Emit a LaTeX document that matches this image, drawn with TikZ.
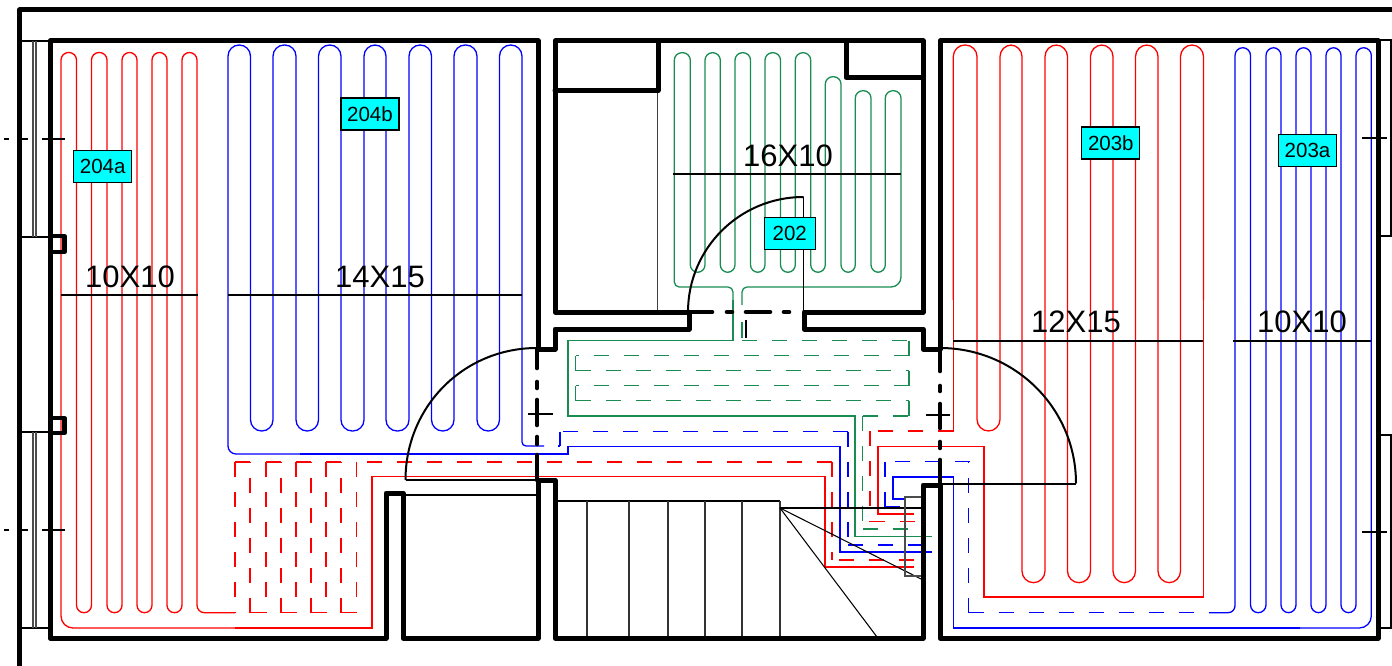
\documentclass[tikz,border=0pt]{standalone}
\usepackage{fontspec}
\setmainfont{Liberation Sans}
\definecolor{pipegreen}{rgb}{0.10,0.55,0.32}
\definecolor{tagcyan}{RGB}{0,255,255}
\definecolor{pipered}{RGB}{255,0,0}
\definecolor{pipeblue}{RGB}{0,0,255}
\tikzset{
  wall/.style={line width=5pt,line join=round,line cap=round,black},
  doorwall/.style={line width=4.6pt,line cap=round,black},
  doorswing/.style={line width=2pt,black},
  thin/.style={line width=1.05pt,black},
  thingray/.style={line width=1.2pt,black!70},
  redp/.style={line width=1.3pt,pipered,line join=miter},
  bluep/.style={line width=1.3pt,pipeblue,line join=miter},
  greenp/.style={line width=1.3pt,pipegreen,line join=miter},
  feed/.style={dash pattern=on 15pt off 15pt},
  tag/.style={draw=black,line width=1.1pt,fill=tagcyan,inner sep=0pt,minimum width=58pt,minimum height=32pt,font=\fontsize{20.5}{24}\selectfont,text=black},
  dim/.style={inner sep=0pt,font=\fontsize{31}{36}\selectfont,text=black}
}
% a dashed pipe run: every straight leg restarts its dash at its first point
\newcommand{\dashrun}[2]{%
  \foreach \xx/\yy [count=\nn, remember=\xx as \px, remember=\yy as \py] in {#2}{%
    \ifnum\nn>1 \draw[#1,feed] (\px,\py)--(\xx,\yy);\fi}}
\begin{document}
\begin{tikzpicture}[x=1pt,y=-1pt]
\useasboundingbox (0,0) rectangle (1392,666);
% window frames and side boxes
\draw[thin] (20,41)--(50,41) (20,237)--(50,237) (20,432)--(50,432) (20,628)--(50,628);
\draw[thingray] (33,41)--(33,237) (36,41)--(36,237) (33,432)--(33,628) (36,432)--(36,628);
\draw[thin] (1378,40)--(1391,40)--(1391,236)--(1378,236);
\draw[thin] (1378,435)--(1391,435)--(1391,628)--(1378,628);
% ---------- pipes ----------
% 204a
\draw[redp,rounded corners=7.5pt] (61,300)--(61,52.5)--(76.5,52.5)--(76.5,612.7)--(91.5,612.7)--(91.5,52.5)--(107,52.5)--(107,612.7)--(122,612.7)--(122,52.5)--(137,52.5)--(137,612.7)--(152,612.7)--(152,52.5)--(167,52.5)--(167,612.7)--(182,612.7)--(182,52.5)--(197,52.5)--(197,612.7)--(235,612.7);
\draw[redp,rounded corners=12pt] (61,300)--(61,628)--(235,628);
\draw[redp] (235,628)--(372,628)--(372,476.7)--(825,476.7)--(825,567)--(914,567);
\dashrun{redp}{914/560,832/560}
\dashrun{redp}{832/462,832/560}
\dashrun{redp}{832/462,356.5/462,356.5/612.7,341/612.7,341/462,326/462,326/612.7,311/612.7,311/462,296/462,296/612.7,281/612.7,281/462,266/462,266/612.7,250/612.7,250/462,235/462,235/612.7}
% 204b
\draw[bluep,rounded corners=11.2pt] (228,300)--(228,45)--(250.5,45)--(250.5,431)--(273,431)--(273,45)--(296,45)--(296,431)--(318.5,431)--(318.5,45)--(341,45)--(341,431)--(364,431)--(364,45)--(386,45)--(386,431)--(409,431)--(409,45)--(431.5,45)--(431.5,431)--(454,431)--(454,45)--(477,45)--(477,431)--(499.5,431)--(499.5,45)--(522,45)--(522,300);
\draw[bluep,rounded corners=8pt] (228,300)--(228,454)--(300,454);
\draw[bluep] (300,454)--(568,454)--(568,446.7)--(840,446.7)--(840,552)--(932,552);
\draw[bluep,rounded corners=4pt] (522,300)--(522,446)--(544,446);
\dashrun{bluep}{848/431.7,848/545,923/545}
\dashrun{bluep}{848/431.7,560/431.7,560/446,558/446}
% 202
\draw[greenp,rounded corners=7.5pt] (674.3,150)--(674.3,52.7)--(690.3,52.7)--(690.3,272.3)--(705,272.3)--(705,52.7)--(720.3,52.7)--(720.3,272.3)--(735,272.3)--(735,52.7)--(750.5,52.7)--(750.5,272.3)--(765,272.3)--(765,52.7)--(780.5,52.7)--(780.5,272.3)--(795.3,272.3)--(795.3,52.7)--(810.7,52.7)--(810.7,272.3)--(825.3,272.3)--(825.3,76.7)--(841,76.7)--(841,272.3)--(855.3,272.3)--(855.3,90.7)--(871,90.7)--(871,272.3)--(885.3,272.3)--(885.3,90.7)--(901,90.7)--(901,150);
\draw[greenp,rounded corners=5pt] (674.3,150)--(674.3,287)--(733,287)--(733,300);
\draw[greenp] (733,300)--(733,340.5)--(568,340.5)--(568,416)--(855,416)--(855,536.7)--(932,536.7);
\draw[greenp,rounded corners=10pt] (901,150)--(901,287)--(860,287);
\draw[greenp,rounded corners=5pt] (860,287)--(742,287)--(742,305);
\draw[greenp] (742,322)--(742,338);
\dashrun{greenp}{742/340.5,909/340.5}
\dashrun{greenp}{909/340.5,909/355.7,575.7/355.7,575.7/370.7,909/370.7,909/385.7,575.7/385.7,575.7/400.7,909/400.7,909/416}
\dashrun{greenp}{862.7/416,909/416}
\dashrun{greenp}{862.7/416,862.7/529}
\dashrun{greenp}{908/529,862.7/529}
% 203b
\draw[redp,rounded corners=11.6pt] (953.3,300)--(953.3,45)--(977,45)--(977,431)--(1000,431)--(1000,45)--(1022,45)--(1022,582.7)--(1045,582.7)--(1045,45)--(1067.5,45)--(1067.5,582.7)--(1090.5,582.7)--(1090.5,45)--(1113,45)--(1113,582.7)--(1135.5,582.7)--(1135.5,45)--(1158,45)--(1158,582.7)--(1180.5,582.7)--(1180.5,45)--(1203.5,45)--(1203.5,300);
\draw[redp] (1203.5,300)--(1203.5,597)--(984,597)--(984,446.5)--(878,446.5)--(878,514)--(914,514);
\draw[redp] (953.3,300)--(953.3,431)--(938,431);
\dashrun{redp}{923/431,870/431,870/521.7,915/521.7}
% 203a
\draw[bluep,rounded corners=7.8pt] (1235,300)--(1235,47.7)--(1250.5,47.7)--(1250.5,612.7)--(1266,612.7)--(1266,47.7)--(1281,47.7)--(1281,612.7)--(1296,612.7)--(1296,47.7)--(1311,47.7)--(1311,612.7)--(1326,612.7)--(1326,47.7)--(1341,47.7)--(1341,612.7)--(1356,612.7)--(1356,47.7)--(1371.3,47.7)--(1371.3,300);
\draw[bluep,rounded corners=7pt] (1235,300)--(1235,612.7)--(1209,612.7);
\dashrun{bluep}{968.5/612.7,1209/612.7}
\dashrun{bluep}{968.5/612.7,968.5/461.7}
\dashrun{bluep}{970/461.7,885/461.7,885/507,902/507}
\draw[bluep,rounded corners=12pt] (1371.3,300)--(1371.3,628)--(1300,628);
\draw[bluep] (1300,628)--(953.3,628)--(953.3,477)--(893,477)--(893,499)--(905,499);
% ---------- stairs and thin lines ----------
\draw[thin] (403,495)--(538,495);
\draw[thin] (555,501)--(780,501);
\foreach \sx in {587,629,668,705,742,780}{\draw[thin,black!80] (\sx,501)--(\sx,638);}
\draw[thin] (780,508)--(923,508);
\draw[thin] (780,508)--(923,580);
\draw[thin] (780,508)--(877,637);
\draw[thingray] (923,497)--(905,497)--(905,576)--(923,576);
\draw[thin,black!75] (657.5,90)--(657.5,312);
% ---------- dimension rules ----------
\draw[thin] (61,295)--(198,295);
\draw[thin] (228,295)--(522,295);
\draw[thin] (673,174)--(901,174);
\draw[thin] (953,341)--(1203,341);
\draw[thin] (1233,341)--(1371,341);
% ---------- outer frame and walls ----------
\draw[wall] (1392,10)--(19.5,10)--(19.5,666);
\draw[wall] (538,349)--(538,41)--(50,41)--(50,638)--(386,638)--(386,493)--(403,493)--(403,638)--(538,638)--(538,480)--(555,480)--(555,638)--(923,638)--(923,485)--(940,485)--(940,638)--(1378,638)--(1378,41)--(940,41)--(940,349)--(923,349)--(923,329)--(804,329)--(804,312)--(923,312)--(923,41)--(555,41)--(555,312)--(689,312)--(689,329)--(555,329)--(555,349)--cycle;
\draw[wall] (555,90.5)--(658,90.5)--(658,41);
\draw[wall] (846,41)--(846,77.5)--(923,77.5);
\draw[line width=4.2pt,line join=round] (50,236)--(64.5,236)--(64.5,252)--(50,252);
\draw[line width=4.2pt,line join=round] (50,418)--(64.5,418)--(64.5,433)--(50,433);
% door jamb dashes
\foreach \ya/\yb in {349/368,382/388,400/425,437/444,455/480}{\draw[doorwall] (537,\ya)--(537,\yb);}
\foreach \ya/\yb in {349/371,386/391,404/428,442/448,460/485}{\draw[doorwall] (940,\ya)--(940,\yb);}
\foreach \xa/\xb in {690/712,727/732,746/770,784/789}{\draw[doorwall] (\xa,312)--(\xb,312);}
\draw[line width=2.2pt] (746,320)--(746,338);
% crosses
\draw[line width=2.4pt] (528,414)--(553,414);
\draw[line width=2.4pt] (926,415)--(950,415);
% grid ticks
\foreach \ty in {139,530}{
  \draw[line width=1.6pt] (4,\ty)--(9,\ty) (22,\ty)--(28,\ty) (42,\ty)--(65,\ty);
}
\draw[line width=1.6pt] (1362,138)--(1387,138) (1362,532)--(1387,532);
% door swings
\draw[doorswing] (405.5,480)--(537,480);
\draw[doorswing] (405.5,480) .. controls (405.5,407.1) and (463.1,348) .. (537,348);
\draw[doorswing] (940,483.5)--(1076,483.5);
\draw[doorswing] (940,348) .. controls (1015.1,348) and (1076,408.4) .. (1076,483.5);
\draw[doorswing] (688,312) .. controls (688,248.5) and (739.5,197) .. (803.5,197);
\draw[line width=1.4pt] (803.5,197)--(803.5,312);
% ---------- texts ----------
\node[dim] (d1) at (130,277) {10X10};
\node[dim] (d2) at (380,277) {14X15};
\node[dim] (d3) at (788,156) {16X10};
\node[dim] (d4) at (1076,322) {12X15};
\node[dim] (d5) at (1302,322) {10X10};
\node[tag] (t204a) at (102.7,166.2) {204a};
\node[tag] (t204b) at (370,114) {204b};
\node[tag] (t203b) at (1110.8,143) {203b};
\node[tag] (t203a) at (1307.5,150.5) {203a};
\node[tag,minimum width=51pt] (t202) at (789.7,233.8) {202};
\end{tikzpicture}
\end{document}
